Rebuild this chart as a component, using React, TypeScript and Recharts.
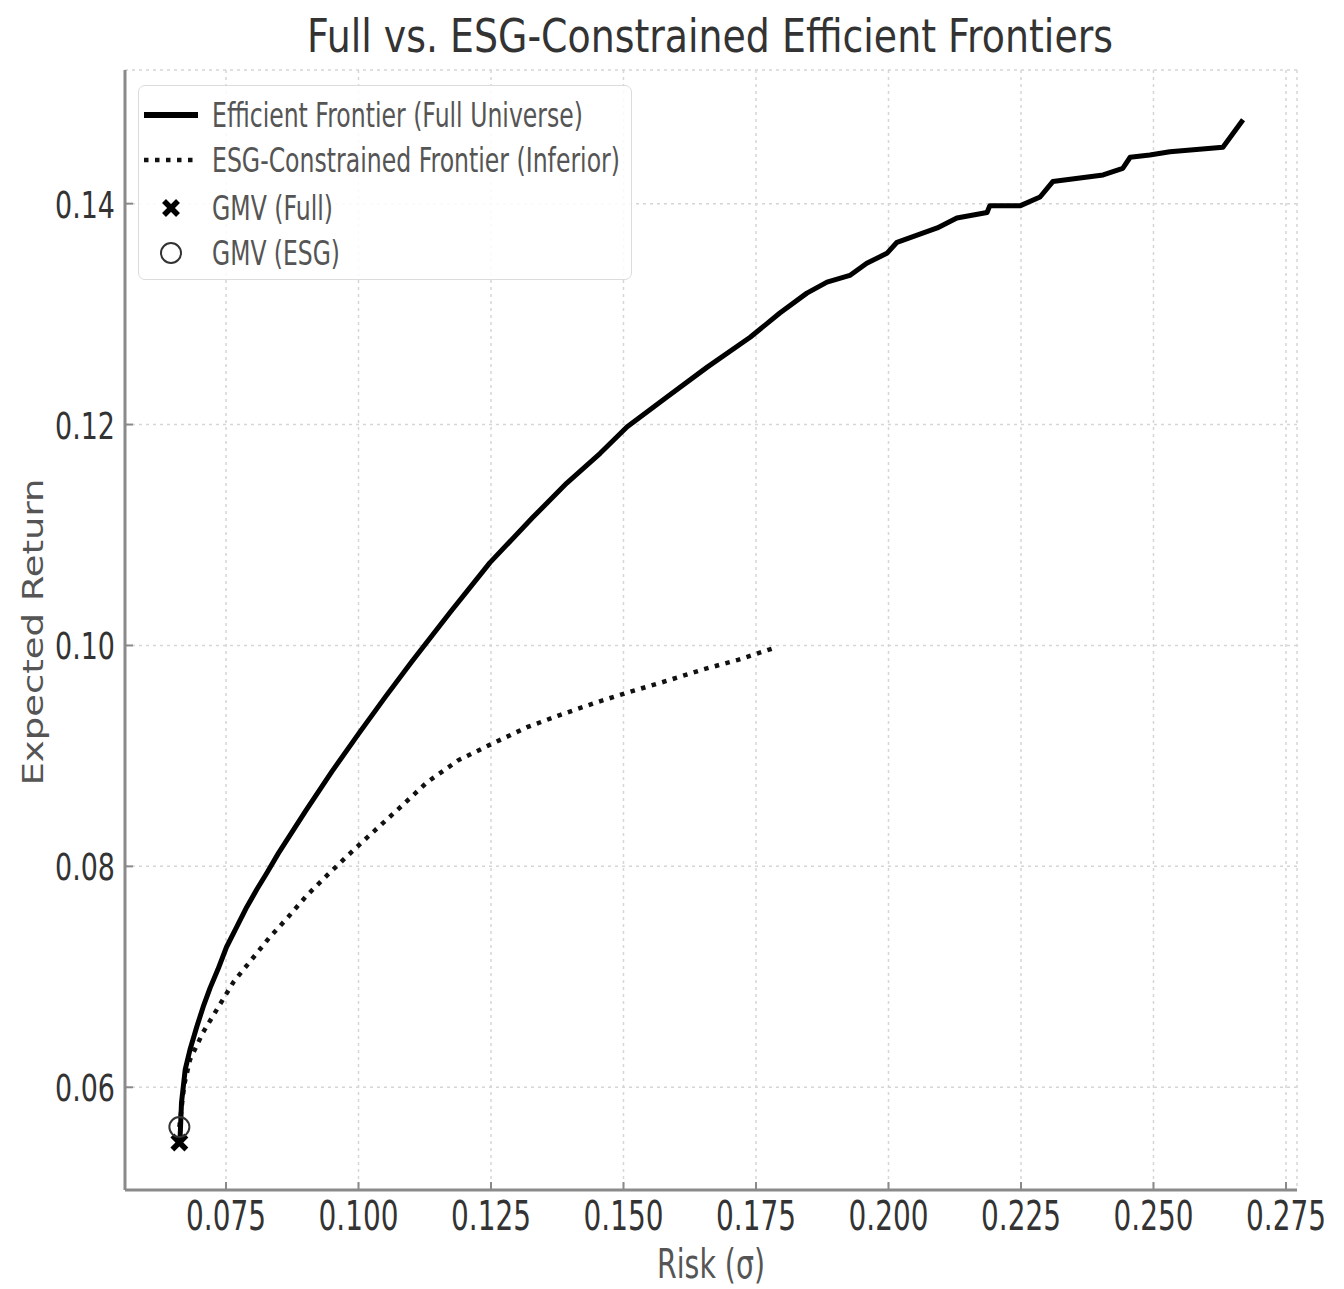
import { ScatterChart, Scatter, XAxis, YAxis, CartesianGrid, Legend, Customized } from 'recharts';

const fullRisk = [
    0.0663, 0.0666, 0.0673, 0.0682, 0.0695, 0.0707, 0.0720, 0.0735, 0.0751, 0.0770,
    0.0789, 0.0808, 0.0827, 0.0849, 0.0900, 0.0950, 0.1000, 0.1050, 0.1100, 0.1173,
    0.1248, 0.1329, 0.1393, 0.1456, 0.1507, 0.1582, 0.1658, 0.1739, 0.1795, 0.1846,
    0.1884, 0.1927, 0.1959, 0.1997, 0.2016, 0.2092, 0.2129, 0.2186, 0.2191, 0.2248,
    0.2286, 0.2310, 0.2405, 0.2442, 0.2456, 0.2493, 0.2531, 0.2631, 0.2669
];
const fullReturn = [
    0.0550, 0.0586, 0.0616, 0.0634, 0.0655, 0.0673, 0.0690, 0.0707, 0.0727, 0.0745,
    0.0763, 0.0779, 0.0794, 0.0812, 0.0850, 0.0886, 0.0920, 0.0953, 0.0985, 0.1030,
    0.1075, 0.1116, 0.1147, 0.1174, 0.1198, 0.1225, 0.1252, 0.1279, 0.1301, 0.1319,
    0.1329, 0.1335, 0.1346, 0.1355, 0.1365, 0.1378, 0.1387, 0.1392, 0.1398, 0.1398,
    0.1406, 0.1420, 0.1426, 0.1432, 0.1442, 0.1444, 0.1447, 0.1451, 0.1476
];
const esgRisk = [
    0.0662, 0.0671, 0.0682, 0.0707, 0.0736, 0.0765, 0.0799, 0.0831, 0.0867, 0.0903,
    0.0941, 0.0978, 0.1016, 0.1073, 0.1129, 0.1188, 0.1252, 0.1318, 0.1380, 0.1446,
    0.1512, 0.1582, 0.1648, 0.1716, 0.1786
];
const esgReturn = [
    0.0564, 0.0602, 0.0625, 0.0650, 0.0673, 0.0696, 0.0716, 0.0735, 0.0754, 0.0774,
    0.0792, 0.0809, 0.0826, 0.0851, 0.0876, 0.0896, 0.0911, 0.0926, 0.0937, 0.0948,
    0.0958, 0.0968, 0.0978, 0.0987, 0.0998
];
const gmvFull = [{ x: 0.0662, y: 0.0550 }];
const gmvEsg = [{ x: 0.0662, y: 0.0564 }];

const xTicks = [0.075, 0.1, 0.125, 0.15, 0.175, 0.2, 0.225, 0.25, 0.275];
const yTicks = [0.06, 0.08, 0.1, 0.12, 0.14];

const fullData = fullRisk.map((x, i) => ({ x, y: fullReturn[i] }));
const esgData = esgRisk.map((x, i) => ({ x, y: esgReturn[i] }));

const FONT = '"DejaVu Sans", sans-serif';
const AXIS = '#8a8a8a';
const SQ = 0.72; // the reference text is horizontally squeezed

// squeezed text: width = len on screen
const Squeezed = ({ x, y, len, size, fill, anchor = 'start', children }: any) => (
    <text transform={`translate(${x},${y}) scale(${SQ},1)`} textAnchor={anchor} fontSize={size}
        fill={fill} fontFamily={FONT} textLength={len / SQ} lengthAdjust="spacingAndGlyphs">
        {children}
    </text>
);

const XTick = ({ x, y, payload }: any) => (
    <Squeezed x={x} y={y + 30} len={80} size={40} fill="#333" anchor="middle">
        {payload.value.toFixed(3)}
    </Squeezed>
);

const YTick = ({ x, y, payload }: any) => (
    <Squeezed x={x} y={y + 14} len={60} size={38} fill="#333" anchor="end">
        {payload.value.toFixed(2)}
    </Squeezed>
);

const XMark = ({ cx, cy, s = 7 }: any) => (
    <g stroke="#000" strokeWidth={5.5} strokeLinecap="butt">
        <line x1={cx - s} y1={cy - s} x2={cx + s} y2={cy + s} />
        <line x1={cx - s} y1={cy + s} x2={cx + s} y2={cy - s} />
    </g>
);

const Ring = ({ cx, cy }: any) => (
    <circle cx={cx} cy={cy} r={10} fill="none" stroke="#333" strokeWidth={2} />
);

const Nothing = () => <g />;

const Annotations = () => (
    <g>
        <Squeezed x={710} y={52} len={806} size={46} fill="#333" anchor="middle">
            Full vs. ESG-Constrained Efficient Frontiers
        </Squeezed>
        <Squeezed x={711} y={1278} len={108} size={40} fill="#555" anchor="middle">
            Risk (σ)
        </Squeezed>
        <g transform="translate(43,632) rotate(-90) scale(1,0.75)">
            <text x={0} y={0} textAnchor="middle" fontSize={37} fill="#555" fontFamily={FONT}>
                Expected Return
            </text>
        </g>
    </g>
);

const legendRows = [
    { label: 'Efficient Frontier (Full Universe)', len: 371 },
    { label: 'ESG-Constrained Frontier (Inferior)', len: 408 },
    { label: 'GMV (Full)', len: 121 },
    { label: 'GMV (ESG)', len: 128 }
];

const renderLegend = () => {
    const rowY = [29, 74, 122, 167];
    return (
        <div style={{
            width: 494, height: 195, boxSizing: 'border-box', border: '1.5px solid #dcdcdc',
            borderRadius: 7, background: 'rgba(255,255,255,0.85)'
        }}>
            <svg width={660} height={192} style={{ display: 'block', overflow: 'visible' }}>
                <line x1={5} y1={rowY[0]} x2={59} y2={rowY[0]} stroke="#000" strokeWidth={6} />
                <line x1={5} y1={rowY[1]} x2={59} y2={rowY[1]} stroke="#111" strokeWidth={4.5}
                    strokeDasharray="4.5 6.5" />
                <XMark cx={32} cy={rowY[2]} />
                <Ring cx={32} cy={rowY[3]} />
                {legendRows.map((r, i) => (
                    <Squeezed key={r.label} x={73} y={rowY[i] + 12} len={r.len} size={34} fill="#555">
                        {r.label}
                    </Squeezed>
                ))}
            </svg>
        </div>
    );
};

export default function App() {
    return (
        <div style={{ position: 'absolute', left: 0, top: 0, width: 1344, height: 1289, background: '#fff' }}>
            <ScatterChart width={1344} height={1289} margin={{ top: 70, right: 47, bottom: 0, left: 0 }}>
                <CartesianGrid stroke="#d6d6d6" strokeWidth={1.5} strokeDasharray="3 4" />
                <XAxis
                    type="number"
                    dataKey="x"
                    domain={[0.05594, 0.27708]}
                    ticks={xTicks}
                    allowDataOverflow
                    height={99}
                    tick={<XTick />}
                    tickSize={-8}
                    tickMargin={18}
                    axisLine={{ stroke: AXIS, strokeWidth: 3 }}
                    tickLine={{ stroke: AXIS, strokeWidth: 2 }}
                />
                <YAxis
                    type="number"
                    dataKey="y"
                    domain={[0.0507, 0.1521]}
                    ticks={yTicks}
                    allowDataOverflow
                    width={125}
                    tick={<YTick />}
                    tickSize={-8}
                    tickMargin={18}
                    axisLine={{ stroke: AXIS, strokeWidth: 3 }}
                    tickLine={{ stroke: AXIS, strokeWidth: 2 }}
                />
                <Legend
                    content={renderLegend}
                    layout="horizontal"
                    verticalAlign="middle"
                    align="center"
                    wrapperStyle={{ left: 138, top: 85, width: 494, height: 195 }}
                />
                <Scatter
                    name="ESG-Constrained Frontier (Inferior)"
                    data={esgData}
                    line={{ stroke: '#111', strokeWidth: 4.5, strokeDasharray: '4.5 6.5' }}
                    shape={<Nothing />}
                    isAnimationActive={false}
                />
                <Scatter
                    name="Efficient Frontier (Full Universe)"
                    data={fullData}
                    line={{ stroke: '#000', strokeWidth: 5, strokeLinejoin: 'round' }}
                    shape={<Nothing />}
                    isAnimationActive={false}
                />
                <Scatter name="GMV (Full)" data={gmvFull} shape={(p: any) => <XMark cx={p.cx} cy={p.cy} />}
                    isAnimationActive={false} />
                <Scatter name="GMV (ESG)" data={gmvEsg} shape={(p: any) => <Ring cx={p.cx} cy={p.cy} />}
                    isAnimationActive={false} />
                <Customized component={Annotations} />
            </ScatterChart>
        </div>
    );
}
